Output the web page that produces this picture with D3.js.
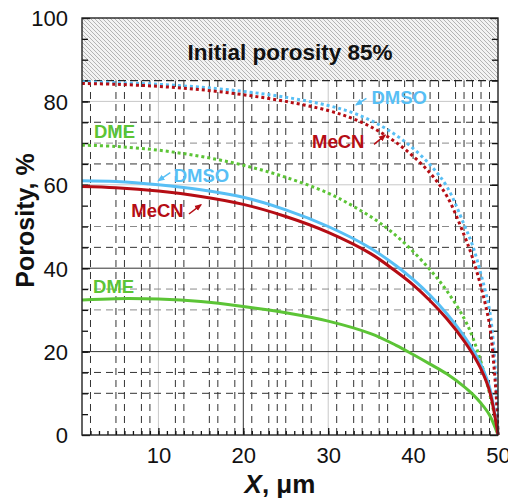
<!DOCTYPE html>
<html>
<head>
<meta charset="utf-8">
<script src="https://cdn.jsdelivr.net/npm/d3@7"></script>
<style>
  body { margin: 0; background: #fff; }
  svg { display: block; }
  text { font-family: "Liberation Sans", Arial, Helvetica, sans-serif; }
</style>
</head>
<body>
<svg id="chart" width="508" height="499"></svg>
<script>
// Depth positions (µm) for the solid (final) and dotted (intermediate) profiles
const xSolid  = [1, 5, 10, 15, 20, 25, 30, 35, 38, 40, 42, 44, 46, 47, 48, 49, 50];
const xDotted = [1, 5, 10, 15, 20, 25, 30, 33, 36, 39, 42, 44, 46, 47, 48, 49, 49.5, 49.8, 50];

// Porosity, %
const dmsoSolid = [61, 60.8, 60, 58.8, 57, 54, 50, 44.8, 40.6, 37.3, 33.5, 29, 23.7, 20.6, 16.8, 11.5, 0];
const mecnSolid = [59.6, 59.3, 58.5, 57.2, 55.3, 52.4, 48.6, 43.5, 39.2, 36, 32.2, 27.8, 22.6, 19.5, 15.8, 10.6, 0];
const dmeSolid  = [32.4, 32.7, 32.6, 32, 30.8, 29.3, 27.3, 24.3, 21.5, 19.3, 17, 14.6, 11.6, 9.8, 7.6, 4.8, 0];

const dmsoDotted = [84.7, 84.5, 84.1, 83.4, 82.4, 81, 79, 77.2, 74.4, 70.4, 64.8, 59.5, 50.5, 45.5, 38.5, 30, 21, 12, 0];
const mecnDotted = [84.3, 84.1, 83.6, 82.8, 81.6, 80, 77.8, 75.8, 72.8, 68.6, 62.8, 57.2, 48, 42.5, 35.5, 26.5, 17, 9, 0];
const dmeDotted  = [69.5, 69.2, 68.3, 66.8, 64.7, 61.8, 58, 54.8, 51, 46, 39.6, 34.5, 28, 23.5, 17.5, 10, 5.5, 2.5, 0];

const initialPorosity = 85;

// Axis ticks and grid
const xTickLabels = [10, 20, 30, 40, 50];
const yTickLabels = [0, 20, 40, 60, 80, 100];
const xGridDashed = [2, 5, 6, 8, 9, 12, 13, 16, 17, 19, 21, 23, 24, 25, 27, 28, 31, 33, 34, 36, 37, 39, 40, 42, 43, 45, 46, 47, 48, 49];
const xGridSolid = [20];
const xGridLight = [10, 30];
const yGridDashed = [10, 15, 45, 65, 75];
const yGridDashedLight = [30, 35, 50, 70];
const yGridSolid = [20, 40];
const yGridLight = [60, 80];

const colors = { dmso: "#58bff5", mecn: "#b50d14", dme: "#5cc436" };

const svg = d3.select("#chart");
const margin = { left: 82, right: 10, top: 18, bottom: 64 };
const W = 508, H = 499;

const x = d3.scaleLinear().domain([1, 50]).range([margin.left, W - margin.right]);
const y = d3.scaleLinear().domain([0, 100]).range([H - margin.bottom, margin.top]);

const defs = svg.append("defs");
const hatch = defs.append("pattern")
  .attr("id", "hatch").attr("patternUnits", "userSpaceOnUse")
  .attr("width", 4).attr("height", 4);
hatch.append("rect").attr("width", 4).attr("height", 4).attr("fill", "#f3f3f3");
hatch.append("path").attr("d", "M-1,-1L5,5M-1,3L1,5M3,-1L5,1")
  .attr("stroke", "#b4b4b4").attr("stroke-width", 1);

["dmso", "mecn"].forEach(k => {
  defs.append("marker")
    .attr("id", "arrow-" + k).attr("viewBox", "0 0 10 10")
    .attr("refX", 8).attr("refY", 5)
    .attr("markerWidth", 5).attr("markerHeight", 5)
    .attr("orient", "auto-start-reverse")
    .append("path").attr("d", "M0,1L10,5L0,9Z").attr("fill", colors[k]);
});

const g = svg.append("g");

// Hatched band above the initial porosity
g.append("rect")
  .attr("x", x(1)).attr("y", y(100))
  .attr("width", x(50) - x(1)).attr("height", y(initialPorosity) - y(100))
  .attr("fill", "url(#hatch)");

// Grid
const grid = g.append("g");
grid.selectAll(".hl").data(yGridLight).join("line")
  .attr("x1", x(1)).attr("x2", x(50)).attr("y1", d => y(d)).attr("y2", d => y(d))
  .attr("stroke", "#c8c8c8").attr("stroke-width", 1);
grid.selectAll(".vl").data(xGridLight).join("line")
  .attr("x1", d => x(d)).attr("x2", d => x(d)).attr("y1", y(0)).attr("y2", y(initialPorosity))
  .attr("stroke", "#c8c8c8").attr("stroke-width", 1);
grid.selectAll(".hdl").data(yGridDashedLight).join("line")
  .attr("x1", x(1)).attr("x2", x(50)).attr("y1", d => y(d)).attr("y2", d => y(d))
  .attr("stroke", "#8a8a8a").attr("stroke-width", 1).attr("stroke-dasharray", "7,5");
grid.selectAll(".hd").data(yGridDashed).join("line")
  .attr("x1", x(1)).attr("x2", x(50)).attr("y1", d => y(d)).attr("y2", d => y(d))
  .attr("stroke", "#333").attr("stroke-width", 1).attr("stroke-dasharray", "7,5");
grid.selectAll(".vd").data(xGridDashed).join("line")
  .attr("x1", d => x(d)).attr("x2", d => x(d)).attr("y1", y(0)).attr("y2", y(initialPorosity))
  .attr("stroke", "#333").attr("stroke-width", 1).attr("stroke-dasharray", "7,5");
grid.selectAll(".hs").data(yGridSolid).join("line")
  .attr("x1", x(1)).attr("x2", x(50)).attr("y1", d => y(d)).attr("y2", d => y(d))
  .attr("stroke", "#333").attr("stroke-width", 1);
grid.selectAll(".vs").data(xGridSolid).join("line")
  .attr("x1", d => x(d)).attr("x2", d => x(d)).attr("y1", y(0)).attr("y2", y(initialPorosity))
  .attr("stroke", "#333").attr("stroke-width", 1);
grid.append("line")
  .attr("x1", x(1)).attr("x2", x(50)).attr("y1", y(initialPorosity)).attr("y2", y(initialPorosity))
  .attr("stroke", "#222").attr("stroke-width", 1.2).attr("stroke-dasharray", "8,4");

// Axes (ticks pointing inward)
const fmt = d3.format("d");
const axisBottom = d3.axisBottom(x).tickValues(xTickLabels).tickSize(-7).tickPadding(12).tickFormat(fmt);
const axisBottomMinor = d3.axisBottom(x).tickValues(d3.range(2, 50)).tickSize(-4).tickFormat("");
const axisLeft = d3.axisLeft(y).tickValues(yTickLabels).tickSize(-8).tickPadding(14).tickFormat(fmt);
const axisLeftMinor = d3.axisLeft(y).tickValues(d3.range(5, 100, 5)).tickSize(-6).tickFormat("");
const axisRight = d3.axisRight(y).tickValues(yTickLabels).tickSize(-8).tickFormat("");
const axisRightMinor = d3.axisRight(y).tickValues(d3.range(5, 100, 5)).tickSize(-6).tickFormat("");

function styleAxis(sel) {
  sel.select(".domain").remove();
  sel.selectAll("line").attr("stroke", "#111").attr("stroke-width", 1.3);
  sel.selectAll("text").attr("font-size", 22).attr("fill", "#111")
    .style("font-family", '"Liberation Sans", Arial, Helvetica, sans-serif');
}
g.append("g").attr("transform", `translate(0,${y(0)})`).call(axisBottomMinor).call(styleAxis);
g.append("g").attr("transform", `translate(0,${y(0)})`).call(axisBottom).call(styleAxis);
g.append("g").attr("transform", `translate(${x(1)},0)`).call(axisLeftMinor).call(styleAxis);
g.append("g").attr("transform", `translate(${x(1)},0)`).call(axisLeft).call(styleAxis)
  .selectAll("text").attr("dy", "0.36em");
g.append("g").attr("transform", `translate(${x(50)},0)`).call(axisRightMinor).call(styleAxis);
g.append("g").attr("transform", `translate(${x(50)},0)`).call(axisRight).call(styleAxis);

// Curves
const line = d3.line().x(d => x(d[0])).y(d => y(d[1])).curve(d3.curveCatmullRom.alpha(0.5));
const zip = (xs, ys) => xs.map((v, i) => [v, ys[i]]);
const curves = [
  { d: zip(xDotted, dmeDotted), c: colors.dme, dotted: true },
  { d: zip(xDotted, dmsoDotted), c: colors.dmso, dotted: true },
  { d: zip(xDotted, mecnDotted), c: colors.mecn, dotted: true },
  { d: zip(xSolid, dmeSolid), c: colors.dme, dotted: false },
  { d: zip(xSolid, dmsoSolid), c: colors.dmso, dotted: false },
  { d: zip(xSolid, mecnSolid), c: colors.mecn, dotted: false }
];
g.append("g").selectAll("path").data(curves).join("path")
  .attr("d", d => line(d.d))
  .attr("fill", "none")
  .attr("stroke", d => d.c)
  .attr("stroke-width", 3)
  .attr("stroke-dasharray", d => d.dotted ? "3,3" : null);

// Frame
g.append("rect")
  .attr("x", x(1)).attr("y", y(100))
  .attr("width", x(50) - x(1)).attr("height", y(0) - y(100))
  .attr("fill", "none").attr("stroke", "#222").attr("stroke-width", 1.4);

// Band caption
g.append("text")
  .attr("x", (x(1) + x(50)) / 2).attr("y", 60)
  .attr("text-anchor", "middle").attr("font-size", 22.5).attr("font-weight", "bold").attr("fill", "#111")
  .text("Initial porosity 85%");

// Series labels
const labels = [
  { t: "DME", xv: 2.4, yv: 71.2, c: colors.dme },
  { t: "DME", xv: 2.3, yv: 34, c: colors.dme },
  { t: "DMSO", xv: 35.1, yv: 79.4, c: colors.dmso },
  { t: "MeCN", xv: 28.1, yv: 68.8, c: colors.mecn },
  { t: "DMSO", xv: 11.8, yv: 60.7, c: colors.dmso },
  { t: "MeCN", xv: 6.8, yv: 52.3, c: colors.mecn }
];
g.append("g").selectAll("text").data(labels).join("text")
  .attr("x", d => x(d.xv)).attr("y", d => y(d.yv))
  .attr("font-size", 18.5).attr("font-weight", "bold").attr("fill", d => d.c)
  .text(d => d.t);

// Pointer arrows from labels to curves
const arrows = [
  { x1: 34.5, y1: 80.7, x2: 33.3, y2: 79.2, k: "dmso" },
  { x1: 35.4, y1: 69.7, x2: 36.7, y2: 71.9, k: "mecn" },
  { x1: 11.4, y1: 62.9, x2: 10.0, y2: 61.0, k: "dmso" },
  { x1: 13.6, y1: 53.0, x2: 15.0, y2: 55.2, k: "mecn" }
];
g.append("g").selectAll("line").data(arrows).join("line")
  .attr("x1", d => x(d.x1)).attr("y1", d => y(d.y1))
  .attr("x2", d => x(d.x2)).attr("y2", d => y(d.y2))
  .attr("stroke", d => colors[d.k]).attr("stroke-width", 1.5)
  .attr("marker-end", d => `url(#arrow-${d.k})`);

// Axis titles
const xt = svg.append("text")
  .attr("x", 280).attr("y", 493)
  .attr("text-anchor", "middle").attr("font-size", 26).attr("font-weight", "bold").attr("fill", "#111");
xt.append("tspan").attr("font-style", "italic").text("X");
xt.append("tspan").text(", μm");

svg.append("text")
  .attr("transform", `translate(34,${(y(0) + y(100)) / 2 - 6}) rotate(-90)`)
  .attr("text-anchor", "middle").attr("font-size", 25).attr("font-weight", "bold").attr("fill", "#111")
  .text("Porosity, %");
</script>
</body>
</html>
